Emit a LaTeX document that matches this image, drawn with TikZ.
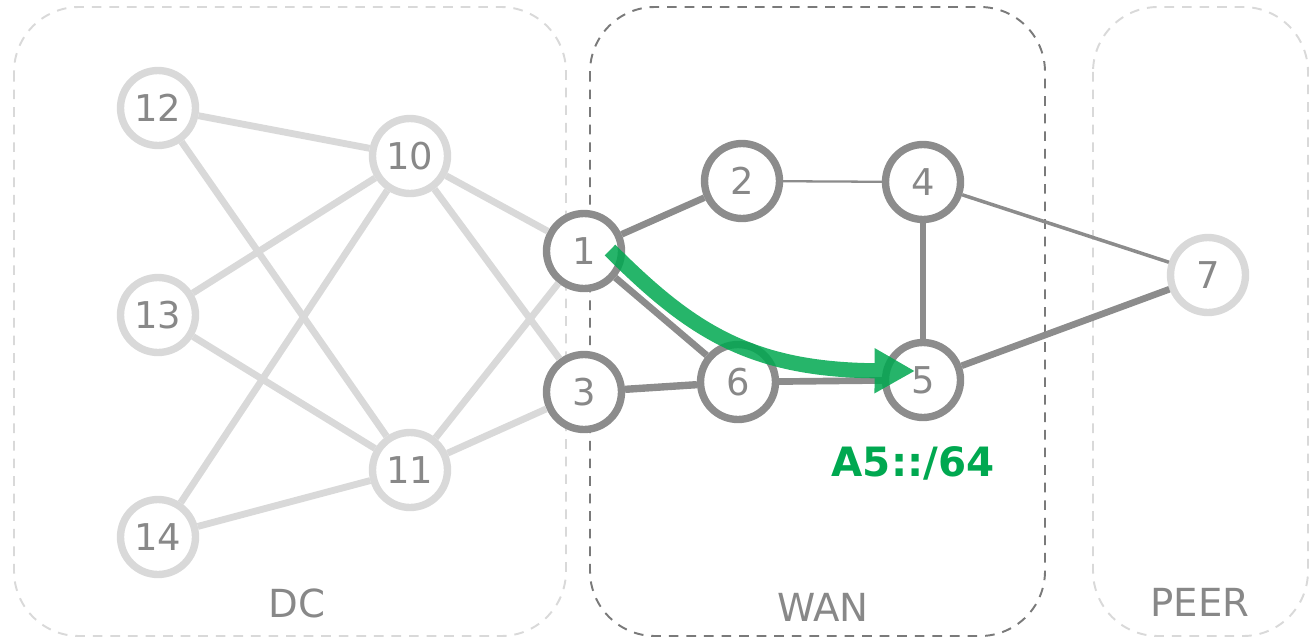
\documentclass[tikz,border=0pt]{standalone}
\usepackage{fontspec}
\setmainfont{DejaVu Sans}
\usepackage{tikz}
\usetikzlibrary{arrows.meta}

\definecolor{lightgr}{HTML}{D9D9D9}
\definecolor{darkgr}{HTML}{8C8C8C}
\definecolor{txtgr}{HTML}{888888}
\definecolor{boxgr}{HTML}{7A7A7A}
\definecolor{routegreen}{HTML}{00A850}

\begin{document}
\begin{tikzpicture}[
    x=0.02cm, y=-0.02cm,
    vertex/.style={circle, draw=darkgr, fill=white, line width=4.2pt, minimum size=1.5cm,
      inner sep=0pt, text=txtgr, font=\fontsize{21}{21}\selectfont},
    dcvertex/.style={vertex, draw=lightgr},
    el/.style={darkgr, line width=3.8pt},
    dcel/.style={lightgr, line width=3.9pt},
    zone/.style={dashed, dash pattern=on 5.5pt off 4.5pt, line width=1.1pt, rounded corners=1.3cm},
    zonelabel/.style={text=txtgr, font=\fontsize{22}{22}\selectfont}
  ]
    \useasboundingbox (0,0) rectangle (1314,639);

    % zones
    \draw[zone, lightgr] (14,7) rectangle (566,636);
    \draw[zone, boxgr] (590,7) rectangle (1045,636);
    \draw[zone, lightgr] (1093,7) rectangle (1308,636);
    \node[zonelabel] (dc) at (297,603) {DC};
    \node[zonelabel] (wan) at (823,607) {WAN};
    \node[zonelabel] (peer) at (1200,602) {PEER};

    % nodes
    \node[dcvertex] (n12) at (158,108) {12};
    \node[dcvertex] (n13) at (158,315) {13};
    \node[dcvertex] (n14) at (158,537) {14};
    \node[dcvertex] (n10) at (410,156) {10};
    \node[dcvertex] (n11) at (410,470) {11};
    \node[vertex] (n1) at (584,251) {1};
    \node[vertex] (n3) at (584,392) {3};
    \node[vertex] (n2) at (742,181) {2};
    \node[vertex] (n6) at (738,382) {6};
    \node[vertex] (n4) at (923,182) {4};
    \node[vertex] (n5) at (923,380) {5};
    \node[dcvertex] (n7) at (1208,275) {7};

    % dc edges
    \foreach \a in {n12,n13,n14}
      \foreach \b in {n10,n11}
        \draw[dcel] (\a) -- (\b);
    \foreach \a in {n10,n11}
      \foreach \b in {n1,n3}
        \draw[dcel] (\a) -- (\b);

    % wan edges
    \draw[el] (n1) -- (n2);
    \draw[el] (n1) -- (n6);
    \draw[el, line width=4.2pt] (n3) -- (n6);
    \draw[el, line width=1.3pt] (n2) -- (n4);
    \draw[el] (n4) -- (n5);
    \draw[el] (n6) -- (n5);
    \draw[el, line width=2pt] (n4) -- (n7);
    \draw[el] (n5) -- (n7);

    % route
    \coordinate (rs) at (610,250);
    \coordinate (rt) at (915,371);
    \begin{scope}[transparency group, opacity=0.85]
      \draw[routegreen, line width=8.6pt, -{Triangle[length=23pt, width=24pt]}]
        (rs) .. controls (690,330) and (750,370) .. (rt);
    \end{scope}
    \node[text=routegreen, font=\fontsize{23}{23}\selectfont\bfseries] (pfx) at (913,463) {A5::/64};
\end{tikzpicture}
\end{document}
